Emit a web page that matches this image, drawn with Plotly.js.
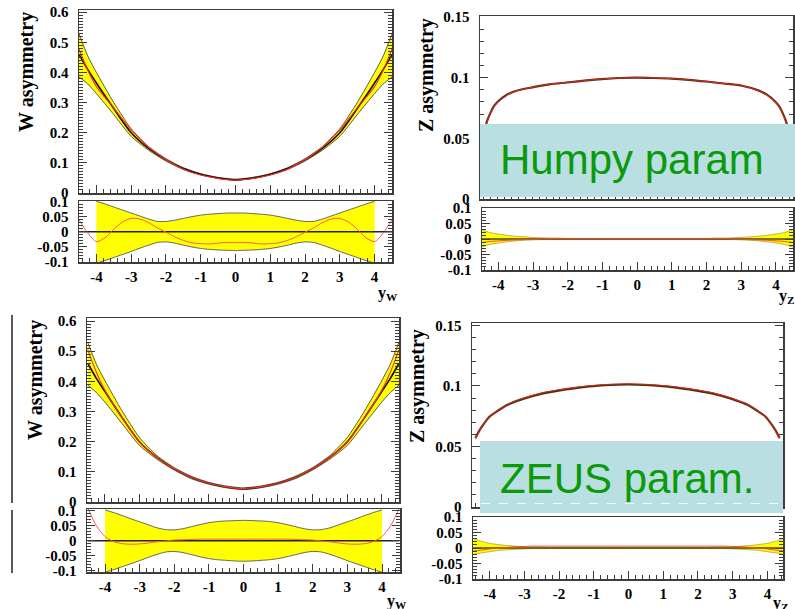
<!DOCTYPE html>
<html><head><meta charset="utf-8">
<script src="https://cdn.plot.ly/plotly-3.0.1.min.js"></script>
<style>html,body{margin:0;padding:0;background:#fff;}#chart{width:795px;height:609px;}</style>
</head><body><div id="chart"></div>
<script>
// ---------- W asymmetry (main panels) ----------
const yW = [-4.5,-4.25,-4,-3.5,-3,-2.5,-2,-1.5,-1,-0.5,0,0.5,1,1.5,2,2.5,3,3.5,4,4.25,4.5];
const wCentralHumpy = [0.460,0.410,0.365,0.280,0.200,0.148,0.110,0.081,0.062,0.050,0.044,0.050,0.062,0.081,0.110,0.148,0.200,0.280,0.365,0.410,0.460];
const wUpperHumpy   = [0.528,0.455,0.400,0.300,0.213,0.154,0.114,0.084,0.064,0.052,0.046,0.052,0.064,0.084,0.114,0.154,0.213,0.300,0.400,0.455,0.528];
const wLowerHumpy   = [0.385,0.362,0.330,0.260,0.188,0.142,0.106,0.078,0.060,0.048,0.042,0.048,0.060,0.078,0.106,0.142,0.188,0.260,0.330,0.362,0.385];
const wAltHumpy     = [0.478,0.408,0.353,0.282,0.209,0.152,0.110,0.079,0.0595,0.048,0.0424,0.048,0.0595,0.079,0.110,0.152,0.209,0.282,0.353,0.408,0.478];

const wCentralZeus = [0.460,0.410,0.366,0.279,0.199,0.148,0.110,0.081,0.062,0.050,0.044,0.050,0.062,0.081,0.110,0.148,0.199,0.279,0.366,0.410,0.460];
const wUpperZeus   = [0.530,0.457,0.402,0.301,0.213,0.154,0.114,0.085,0.065,0.053,0.047,0.053,0.065,0.085,0.114,0.154,0.213,0.301,0.402,0.457,0.530];
const wLowerZeus   = [0.387,0.363,0.331,0.259,0.187,0.142,0.106,0.077,0.059,0.047,0.041,0.047,0.059,0.077,0.106,0.142,0.187,0.259,0.331,0.363,0.387];
const wAltZeus     = [0.505,0.430,0.370,0.279,0.198,0.1475,0.1102,0.0813,0.0623,0.0502,0.0442,0.0502,0.0623,0.0813,0.1102,0.1475,0.198,0.279,0.370,0.430,0.505];

// ---------- W ratio panels ----------
const rX = [-4.5,-4.25,-4,-3.75,-3.5,-3.25,-3,-2.75,-2.5,-2.25,-2,-1.75,-1.5,-1.25,-1,-0.75,-0.5,-0.25,0,0.25,0.5,0.75,1,1.25,1.5,1.75,2,2.25,2.5,2.75,3,3.25,3.5,3.75,4,4.25,4.5];
const rZero = [0,0,0,0,0,0,0,0,0,0,0,0,0,0,0,0,0,0,0,0,0,0,0,0,0,0,0,0,0,0,0,0,0,0,0,0,0];
const rAltHumpy = [0.040,-0.004,-0.033,-0.020,0.008,0.032,0.044,0.042,0.030,0.013,-0.002,-0.017,-0.029,-0.037,-0.040,-0.041,-0.038,-0.036,-0.036,-0.036,-0.038,-0.041,-0.040,-0.037,-0.029,-0.017,-0.002,0.013,0.030,0.042,0.044,0.032,0.008,-0.020,-0.033,-0.004,0.040];
const rAltZeus  = [0.110,0.050,0.014,-0.003,-0.010,-0.012,-0.011,-0.008,-0.004,-0.001,0.002,0.003,0.004,0.005,0.005,0.005,0.005,0.005,0.005,0.005,0.005,0.005,0.005,0.005,0.004,0.003,0.002,-0.001,-0.004,-0.008,-0.011,-0.012,-0.010,-0.003,0.014,0.050,0.110];

const bX = [-4,-3.75,-3.5,-3.25,-3,-2.75,-2.5,-2.25,-2,-1.75,-1.5,-1.25,-1,-0.75,-0.5,-0.25,0,0.25,0.5,0.75,1,1.25,1.5,1.75,2,2.25,2.5,2.75,3,3.25,3.5,3.75,4];
const bUpHumpy = [0.101,0.092,0.082,0.072,0.062,0.052,0.042,0.034,0.034,0.038,0.044,0.050,0.055,0.058,0.060,0.062,0.062,0.062,0.060,0.058,0.055,0.050,0.044,0.038,0.034,0.034,0.042,0.052,0.062,0.072,0.082,0.092,0.101];
const bLoHumpy = [-0.105,-0.096,-0.086,-0.076,-0.066,-0.055,-0.045,-0.036,-0.034,-0.038,-0.045,-0.051,-0.056,-0.059,-0.061,-0.062,-0.063,-0.062,-0.061,-0.059,-0.056,-0.051,-0.045,-0.038,-0.034,-0.036,-0.045,-0.055,-0.066,-0.076,-0.086,-0.096,-0.105];
const bUpZeus = [0.103,0.094,0.084,0.073,0.063,0.053,0.043,0.037,0.036,0.040,0.047,0.054,0.060,0.064,0.066,0.067,0.068,0.067,0.066,0.064,0.060,0.054,0.047,0.040,0.036,0.037,0.043,0.053,0.063,0.073,0.084,0.094,0.103];
const bLoZeus = [-0.106,-0.097,-0.087,-0.077,-0.067,-0.056,-0.046,-0.038,-0.036,-0.040,-0.047,-0.054,-0.060,-0.064,-0.066,-0.068,-0.069,-0.068,-0.066,-0.064,-0.060,-0.054,-0.047,-0.040,-0.036,-0.038,-0.046,-0.056,-0.067,-0.077,-0.087,-0.097,-0.106];

// ---------- Z asymmetry (main panels) ----------
const yZ = [-4.4,-4.3,-4.2,-4.1,-4.0,-3.75,-3.5,-3.0,-2.5,-2.0,-1.5,-1.0,-0.5,0,0.5,1.0,1.5,2.0,2.5,3.0,3.5,3.75,4.0,4.1,4.2,4.3,4.4];
const zCentralHumpy = [0.052,0.064,0.071,0.0765,0.080,0.0855,0.0888,0.0920,0.0945,0.0960,0.0975,0.0988,0.0997,0.1000,0.0997,0.0992,0.0982,0.0968,0.0952,0.0935,0.0895,0.0860,0.0800,0.0765,0.0710,0.0640,0.052];
const zAltHumpy     = [0.0515,0.0634,0.0705,0.0761,0.0796,0.0852,0.0886,0.0920,0.0946,0.0961,0.0976,0.0989,0.0998,0.1001,0.0998,0.0993,0.0983,0.0969,0.0953,0.0935,0.0893,0.0857,0.0796,0.0761,0.0705,0.0634,0.0515];
const zCentralZeus  = [0.057,0.0625,0.067,0.071,0.0745,0.0795,0.084,0.0895,0.0935,0.0962,0.0982,0.0998,0.1008,0.1012,0.1008,0.0998,0.0982,0.0962,0.0935,0.0895,0.084,0.0795,0.0745,0.071,0.067,0.0625,0.057];
const zAltZeus      = [0.0565,0.0622,0.0669,0.0711,0.0747,0.0798,0.0844,0.0900,0.0941,0.0968,0.0988,0.1004,0.1014,0.1018,0.1014,0.1004,0.0988,0.0968,0.0941,0.0900,0.0844,0.0798,0.0747,0.0711,0.0669,0.0622,0.0565];

// ---------- Z ratio panels ----------
const zUpHumpy = [0.030,0.021,0.016,0.012,0.009,0.007,0.005,0.004,0.003,0.003,0.002,0.002,0.002,0.002,0.002,0.002,0.002,0.002,0.002,0.002,0.002,0.002,0.002,0.002,0.002,0.002,0.002,0.003,0.003,0.004,0.005,0.007,0.009,0.012,0.016,0.021,0.030];
const zLoHumpy = [-0.026,-0.018,-0.013,-0.009,-0.006,-0.004,-0.003,-0.002,-0.002,-0.002,-0.002,-0.002,-0.002,-0.002,-0.002,-0.002,-0.002,-0.002,-0.002,-0.002,-0.002,-0.002,-0.002,-0.002,-0.002,-0.002,-0.002,-0.002,-0.002,-0.002,-0.003,-0.004,-0.006,-0.009,-0.013,-0.018,-0.026];
const zRAltHumpy = [-0.012,-0.008,-0.006,-0.004,-0.003,-0.002,-0.001,0.000,0.001,0.001,0.001,0.001,0.001,0.001,0.001,0.001,0.001,0.001,0.001,0.001,0.001,0.001,0.001,0.001,0.001,0.001,0.001,0.001,0.001,0.000,-0.001,-0.002,-0.003,-0.004,-0.006,-0.008,-0.012];
const zUpZeus = [0.032,0.022,0.015,0.011,0.008,0.006,0.004,0.003,0.003,0.002,0.002,0.002,0.002,0.002,0.002,0.002,0.002,0.002,0.002,0.002,0.002,0.002,0.002,0.002,0.002,0.002,0.002,0.002,0.003,0.003,0.004,0.006,0.008,0.011,0.015,0.022,0.032];
const zLoZeus = [-0.022,-0.016,-0.012,-0.008,-0.006,-0.004,-0.003,-0.002,-0.002,-0.002,-0.002,-0.002,-0.002,-0.002,-0.002,-0.002,-0.002,-0.002,-0.002,-0.002,-0.002,-0.002,-0.002,-0.002,-0.002,-0.002,-0.002,-0.002,-0.002,-0.002,-0.003,-0.004,-0.006,-0.008,-0.012,-0.016,-0.022];
const zRAltZeus = [-0.010,-0.007,-0.003,0.000,0.002,0.004,0.005,0.006,0.006,0.006,0.006,0.006,0.006,0.006,0.006,0.006,0.006,0.006,0.006,0.006,0.006,0.006,0.006,0.006,0.006,0.006,0.006,0.006,0.006,0.006,0.005,0.004,0.002,0.000,-0.003,-0.007,-0.010];

// ---------- tick labels / texts ----------
const wTickVals = [0,0.1,0.2,0.3,0.4,0.5,0.6];
const wTickText = ['0','0.1','0.2','0.3','0.4','0.5','0.6'];
const zTickVals = [0,0.05,0.1,0.15];
const zTickText = ['0','0.05','0.1','0.15'];
const rTickVals = [-0.1,-0.05,0,0.05,0.1];
const rTickText = ['-0.1','-0.05','0','0.05','0.1'];
const xTickVals = [-4,-3,-2,-1,0,1,2,3,4];
const xTickText = ['-4','-3','-2','-1','0','1','2','3','4'];
const yTitles = ['W asymmetry','Z asymmetry','W asymmetry','Z asymmetry'];
const xTitles = ['y<sub>W</sub>','y<sub>Z</sub>','y<sub>W</sub>','y<sub>Z</sub>'];
const boxTexts = ['Humpy param','ZEUS param.'];

// ---------- layout helpers ----------
const W = 795, H = 609;
const tickFont = {family:'Liberation Serif, Times New Roman, serif', size:15, color:'#000', weight:'bold'};
const frameColor = '#3c3c3c';
const panels = [
  {box:[79,392,10,193],  xr:[-4.5,4.5],   yr:[0,0.607],       kind:'w'},
  {box:[79,392,201,262], xr:[-4.5,4.5],   yr:[-0.101,0.102],  kind:'r'},
  {box:[480,793,16,199], xr:[-4.5,4.5],   yr:[0,0.1508],      kind:'z'},
  {box:[482,793,208,270],xr:[-4.47,4.49], yr:[-0.1,0.1],      kind:'r'},
  {box:[87,399,318,502], xr:[-4.52,4.5],  yr:[0,0.61],        kind:'w'},
  {box:[87,400,509,572], xr:[-4.52,4.52], yr:[-0.105,0.106],  kind:'r'},
  {box:[472,783,323,507],xr:[-4.5,4.5],   yr:[0,0.152],       kind:'z'},
  {box:[473,783,517,579],xr:[-4.48,4.45], yr:[-0.1,0.1],      kind:'r'}
];

const layout = {
  width: W, height: H, margin:{l:0,r:0,t:0,b:0},
  paper_bgcolor:'#fff', plot_bgcolor:'#fff', showlegend:false,
  annotations:[], shapes:[]
};
panels.forEach((p,i) => {
  const n = i+1, [l,r,t,b] = p.box;
  const isR = p.kind === 'r';
  layout['xaxis'+n] = {
    domain:[l/W, r/W], range:p.xr, anchor:'y'+n,
    showline:true, linecolor:frameColor, linewidth:1.5, mirror:true,
    ticks:'inside', ticklen:8, tickwidth:1, tickcolor:frameColor,
    tickmode:'array', tickvals:xTickVals, ticktext:xTickText,
    showticklabels:isR, tickfont:tickFont,
    minor:{ticks:'inside', ticklen:4, tickcolor:frameColor, dtick:0.2, tick0:0},
    showgrid:false, zeroline:false, fixedrange:true
  };
  let tv, tt;
  if (p.kind==='w'){tv=wTickVals;tt=wTickText;}
  else if (p.kind==='z'){tv=zTickVals;tt=zTickText;}
  else {tv=rTickVals;tt=rTickText;}
  layout['yaxis'+n] = {
    domain:[1-b/H, 1-t/H], range:p.yr, anchor:'x'+n,
    showline:true, linecolor:frameColor, linewidth:1.5, mirror:'allticks',
    ticks:'inside', ticklen:8, tickwidth:1, tickcolor:frameColor,
    tickmode:'array', tickvals:tv, ticktext:tt, tickfont:tickFont,
    ticklabelstandoff:6,
    minor:{ticks:'inside', ticklen:4, tickcolor:frameColor, dtick:0.01, tick0:0},
    showgrid:false, zeroline:false, fixedrange:true
  };
});

function ax(n){ return {xaxis:'x'+n, yaxis:'y'+n}; }
const traces = [];
function band(n, x, lo, hi, edge, ew){
  traces.push(Object.assign({x:x, y:lo, type:'scatter', mode:'lines', line:{color:edge, width:ew, shape:'spline', smoothing:0.6}, hoverinfo:'skip'}, ax(n)));
  traces.push(Object.assign({x:x, y:hi, type:'scatter', mode:'lines', fill:'tonexty', fillcolor:'#ffff00', line:{color:edge, width:ew, shape:'spline', smoothing:0.6}, hoverinfo:'skip'}, ax(n)));
}
function curve(n, x, y, color, w){
  traces.push(Object.assign({x:x, y:y, type:'scatter', mode:'lines', line:{color:color, width:w, shape:'spline', smoothing:0.8}, hoverinfo:'skip'}, ax(n)));
}
band(1, yW, wLowerHumpy, wUpperHumpy, '#333', 0.8);
curve(1, yW, wCentralHumpy, '#111', 1.6);
curve(1, yW, wAltHumpy, '#ff2a2a', 1.1);
band(2, bX, bLoHumpy, bUpHumpy, '#555', 0.9);
curve(2, rX, rZero, '#222', 1.5);
curve(2, rX, rAltHumpy, '#ff5555', 1.0);
curve(3, yZ, zCentralHumpy, '#3a3a10', 2.2);
curve(3, yZ, zAltHumpy, '#e02020', 1.1);
band(4, rX, zLoHumpy, zUpHumpy, '#8a8a10', 0.6);
curve(4, rX, rZero, '#4a4a10', 1.5);
curve(4, rX, zRAltHumpy, '#ff4040', 1.0);
band(5, yW, wLowerZeus, wUpperZeus, '#333', 0.8);
curve(5, yW, wCentralZeus, '#111', 1.6);
curve(5, yW, wAltZeus, '#ff2a2a', 1.1);
band(6, bX, bLoZeus, bUpZeus, '#555', 0.9);
curve(6, rX, rZero, '#222', 1.5);
curve(6, rX, rAltZeus, '#ff5555', 1.0);
curve(7, yZ, zCentralZeus, '#3a3a10', 2.2);
curve(7, yZ, zAltZeus, '#e02020', 1.1);
band(8, rX, zLoZeus, zUpZeus, '#8a8a10', 0.6);
curve(8, rX, rZero, '#4a4a10', 1.5);
curve(8, rX, zRAltZeus, '#ff4040', 1.0);

const serifTitle = {family:'Liberation Serif, Times New Roman, serif', size:20, color:'#000', weight:'bold'};
function px(x){return x/W;} function py(y){return 1-y/H;}
const yTitlePos = [[27,72],[427,75],[35,380],[417,386]];
yTitlePos.forEach((p,i)=>layout.annotations.push({xref:'paper',yref:'paper',x:px(p[0]),y:py(p[1]),text:yTitles[i],textangle:-90,showarrow:false,xanchor:'center',yanchor:'middle',font:serifTitle}));
const xTitlePos = [[388,293],[786,296],[397,601],[780,603]];
xTitlePos.forEach((p,i)=>layout.annotations.push({xref:'paper',yref:'paper',x:px(p[0]),y:py(p[1]),text:xTitles[i],showarrow:false,xanchor:'center',yanchor:'middle',font:{family:'Liberation Serif, serif',size:16,color:'#000',weight:'bold'}}));
const boxes = [[480,795,124,197],[480,783,441,513]];
boxes.forEach(bx=>layout.shapes.push({type:'rect',xref:'paper',yref:'paper',x0:px(bx[0]),x1:px(bx[1]),y0:py(bx[3]),y1:py(bx[2]),fillcolor:'#b9dfe2',line:{width:0},layer:'above'}));
layout.shapes.push({type:'line',xref:'paper',yref:'paper',x0:px(481),x1:px(782),y0:py(503.5),y1:py(503.5),line:{color:'#ffffff',width:1,dash:'dash'},layer:'above'});
layout.shapes.push({type:'line',xref:'paper',yref:'paper',x0:px(12),x1:px(12),y0:py(315),y1:py(503),line:{color:'#222',width:1.5},layer:'above'});
layout.shapes.push({type:'line',xref:'paper',yref:'paper',x0:px(12),x1:px(12),y0:py(510),y1:py(573),line:{color:'#222',width:1.5},layer:'above'});
const boxTextPos = [[632,159],[627,478]];
boxTextPos.forEach((p,i)=>layout.annotations.push({xref:'paper',yref:'paper',x:px(p[0]),y:py(p[1]),text:boxTexts[i],showarrow:false,xanchor:'center',yanchor:'middle',font:{family:'Liberation Sans, Arial, sans-serif',size:42,color:'#0a9a0a'}}));

Plotly.newPlot('chart', traces, layout, {staticPlot:true, displayModeBar:false});
</script></body></html>
